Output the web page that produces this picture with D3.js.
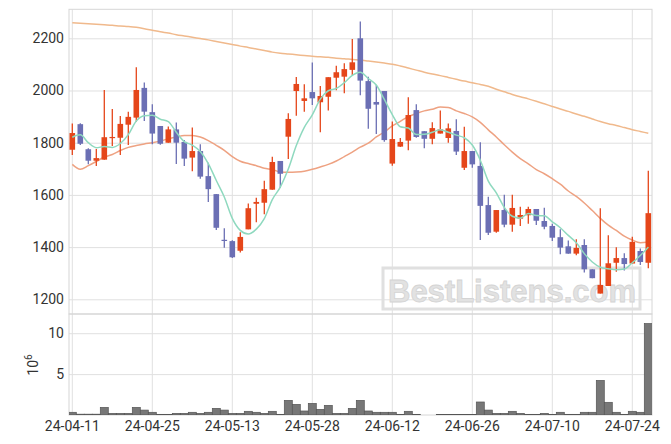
<!DOCTYPE html>
<html><head><meta charset="utf-8">
<script src="https://cdn.jsdelivr.net/npm/d3@7"></script>
<style>html,body{margin:0;padding:0;background:#fff;} svg{display:block;font-family:Roboto, sans-serif;}</style>
</head><body><svg id="c" width="671" height="444"></svg>
<script>
const dates = ["2024-04-11","2024-04-12","2024-04-15","2024-04-16","2024-04-17","2024-04-18","2024-04-19","2024-04-22","2024-04-23","2024-04-24",
"2024-04-25","2024-04-26","2024-04-29","2024-04-30","2024-05-02","2024-05-03","2024-05-07","2024-05-08","2024-05-09","2024-05-10",
"2024-05-13","2024-05-14","2024-05-16","2024-05-17","2024-05-20","2024-05-21","2024-05-22","2024-05-23","2024-05-24","2024-05-27",
"2024-05-28","2024-05-29","2024-05-30","2024-05-31","2024-06-03","2024-06-04","2024-06-05","2024-06-07","2024-06-10","2024-06-11",
"2024-06-12","2024-06-13","2024-06-14","2024-06-17","2024-06-18","2024-06-19","2024-06-20","2024-06-21","2024-06-24","2024-06-25",
"2024-06-26","2024-06-27","2024-06-28","2024-07-01","2024-07-02","2024-07-03","2024-07-04","2024-07-05","2024-07-08","2024-07-09",
"2024-07-10","2024-07-11","2024-07-12","2024-07-15","2024-07-16","2024-07-17","2024-07-18","2024-07-19","2024-07-22","2024-07-23",
"2024-07-24","2024-07-25","2024-07-26"];
const openP  = [1773,1871,1775,1731,1735,1819,1819,1869,1896,2010,1917,1864,1800,1851,1803,1743,1768,1672,1603,1428,
1423,1386,1468,1566,1570,1620,1730,1823,1998,1960,1994,1955,1976,2049,2053,2079,2200,2036,1956,1998,
1720,1785,1808,1925,1844,1815,1835,1818,1845,1704,1768,1711,1561,1459,1542,1486,1509,1522,1546,1500,
1481,1438,1403,1375,1408,1315,1222,1251,1340,1358,1337,1385,1340];
const highP  = [1874,1875,1779,1776,2002,1929,1902,1919,2089,2031,1947,1864,1862,1877,1810,1858,1794,1723,1603,1472,
1426,1457,1567,1589,1654,1746,1730,1913,2052,2024,2107,2017,2051,2095,2104,2197,2264,2053,2021,1998,
1881,1818,1974,1947,1844,1878,1923,1874,1890,1861,1768,1802,1593,1542,1601,1601,1555,1555,1546,1551,
1489,1468,1425,1430,1430,1315,1549,1445,1399,1376,1440,1395,1693];
const lowP   = [1753,1791,1717,1711,1735,1787,1753,1791,1880,1883,1794,1792,1800,1718,1711,1691,1662,1573,1466,1398,
1358,1379,1468,1495,1526,1620,1626,1738,1903,1919,1944,1840,1923,2001,1989,2059,1982,1853,1833,1804,
1712,1784,1771,1819,1779,1794,1835,1800,1753,1695,1704,1427,1446,1455,1476,1459,1481,1489,1485,1468,
1423,1373,1375,1369,1303,1281,1222,1251,1306,1310,1337,1331,1319];
const closeP = [1837,1796,1731,1741,1821,1822,1872,1899,2002,1919,1835,1796,1851,1800,1739,1768,1670,1622,1474,1425,
1361,1439,1549,1573,1622,1726,1681,1891,2025,1970,1970,1979,2051,2070,2082,2108,2038,1930,1946,1810,
1814,1803,1906,1822,1815,1856,1851,1855,1766,1768,1717,1558,1455,1542,1486,1550,1523,1546,1501,1478,
1436,1398,1375,1397,1315,1281,1255,1338,1358,1335,1420,1343,1530];
const ma5 = [1821,1830,1800,1781,1785,1782,1797,1831,1883,1903,1905,1890,1881,1840,1804,1791,1766,1720,1655,1592,
1510,1464,1450,1469,1509,1582,1630,1699,1789,1859,1907,1967,1999,2008,2030,2058,2070,2046,2021,1966,
1908,1861,1856,1831,1832,1840,1850,1840,1829,1819,1791,1733,1653,1608,1552,1518,1511,1529,1521,1520,
1497,1474,1445,1417,1375,1343,1323,1317,1313,1316,1340,1368,1400];
const ma20 = [1717,1698,1712,1728,1745,1755,1770,1782,1789,1795,1800,1806,1815,1822,1828,1828,1822,1808,1790,1771,
1747,1729,1720,1712,1702,1697,1688,1687,1688,1691,1698,1707,1717,1730,1747,1764,1783,1798,1822,1841,
1864,1882,1900,1912,1922,1928,1937,1935,1922,1912,1899,1878,1849,1822,1792,1764,1739,1719,1697,1681,
1662,1641,1615,1594,1569,1540,1510,1484,1464,1442,1427,1417,1420];
const ma120 = [2260,2258,2256,2254,2252,2250,2247,2245,2242,2237,2231,2225,2220,2214,2209,2204,2199,2194,2188,2182,
2176,2170,2165,2159,2153,2147,2143,2140,2137,2134,2131,2129,2127,2124,2122,2119,2117,2113,2109,2105,
2101,2094,2086,2078,2070,2063,2057,2050,2043,2036,2030,2023,2016,2005,1995,1985,1976,1968,1959,1949,
1939,1929,1920,1910,1901,1891,1881,1873,1866,1858,1850,1843,1836];
const volumeMillions = [0.33,0.1,0.1,0.1,0.93,0.2,0.2,0.2,0.93,0.6,0.33,0.08,0.08,0.2,0.2,0.33,0.2,0.33,0.81,0.6,
0.2,0.2,0.45,0.33,0.2,0.45,0.08,1.79,1.3,0.49,1.42,0.69,1.18,0.2,0.2,0.81,1.79,0.49,0.33,0.33,
0.33,0.08,0.45,0.08,0,0,0.06,0.06,0.06,0.06,0.06,1.59,0.6,0.2,0.2,0.45,0.2,0.08,0.08,0.2,
0.08,0.33,0.08,0.08,0.33,0.33,4.23,1.55,0.33,0.08,0.45,0.33,11.18];
const priceTicks = [1200,1400,1600,1800,2000,2200];
const volumeTicks = [5,10];
const tickDates = ["2024-04-11","2024-04-25","2024-05-13","2024-05-28","2024-06-12","2024-06-26","2024-07-10","2024-07-24"];
const tickLabels = ["24-04-11","24-04-25","24-05-13","24-05-28","24-06-12","24-06-26","24-07-10","24-07-24"];

const L = 69, R = 652, T = 9.3, MB = 314, VB = 415;
const svg = d3.select("#c");
const x = d3.scaleBand().domain(dates).range([68.3, 652.3]).padding(0);
const cx = d => x(d) + x.bandwidth()/2;
const y = d3.scaleLinear().domain([1143.7, 2311.1]).range([MB, T]);
const yv = d3.scaleLinear().domain([0, 12.35]).range([VB, MB]);

const defs = svg.append("defs");
defs.append("clipPath").attr("id","clipM").append("rect").attr("x",L).attr("y",T).attr("width",R-L).attr("height",MB-T);
defs.append("clipPath").attr("id","clipV").append("rect").attr("x",L).attr("y",MB).attr("width",R-L).attr("height",VB-MB);

const gridCol = "#e0e0e0", txtCol = "#333";
const xAx = svg.append("g").attr("transform",`translate(0,${VB})`)
  .call(d3.axisBottom(x).tickValues(tickDates).tickFormat((d,i)=>tickLabels[i]).tickSize(-(VB-T)).tickPadding(5.7));
xAx.select(".domain").remove();
xAx.selectAll("line").attr("stroke",gridCol);
xAx.selectAll("text").attr("fill",txtCol).style("font-size","14px").style("font-family","Roboto");
const yAx = svg.append("g").attr("transform",`translate(${L},0)`)
  .call(d3.axisLeft(y).tickValues(priceTicks).tickFormat(d3.format("d")).tickSize(-(R-L)).tickPadding(5));
yAx.select(".domain").remove();
yAx.selectAll("line").attr("stroke",gridCol);
yAx.selectAll("text").attr("fill",txtCol).style("font-size","14px").style("font-family","Roboto");
const vAx = svg.append("g").attr("transform",`translate(${L},0)`)
  .call(d3.axisLeft(yv).tickValues(volumeTicks).tickFormat(d3.format("d")).tickSize(-(R-L)).tickPadding(5));
vAx.select(".domain").remove();
vAx.selectAll("line").attr("stroke",gridCol);
vAx.selectAll("text").attr("fill",txtCol).style("font-size","14px").style("font-family","Roboto");

svg.append("rect").attr("x",L).attr("y",T).attr("width",R-L).attr("height",MB-T).attr("fill","none").attr("stroke","#d6d6d6");
svg.append("rect").attr("x",L).attr("y",MB).attr("width",R-L).attr("height",VB-MB).attr("fill","none").attr("stroke","#d6d6d6");

const vl = svg.append("text").attr("transform","translate(38,365) rotate(-90)").attr("text-anchor","middle")
  .attr("fill",txtCol).style("font-size","14px");
vl.append("tspan").text("10");
vl.append("tspan").attr("dy",-6).style("font-size","10px").text("6");

const wm = svg.append("g");
wm.append("rect").attr("x",383).attr("y",268).attr("width",257).attr("height",41).attr("fill","none").attr("stroke","#e0e0e0").attr("stroke-width",3);
wm.append("text").attr("x",388).attr("y",302).attr("textLength",248).attr("lengthAdjust","spacingAndGlyphs")
  .style("font-family","'Liberation Sans', Arial, sans-serif").style("font-weight","bold").style("font-size","31px")
  .attr("fill","#e2e2e2").attr("stroke","#d4d4d4").attr("stroke-width",0.8).text("BestListens.com");

svg.append("g").attr("clip-path","url(#clipV)").selectAll("rect").data(dates).join("rect")
  .attr("x",d=>x(d)).attr("width",x.bandwidth())
  .attr("y",(d,i)=>yv(volumeMillions[i])).attr("height",(d,i)=>VB-yv(volumeMillions[i]))
  .attr("fill","#777").attr("stroke","#555").attr("stroke-width",0.7);

const gM = svg.append("g").attr("clip-path","url(#clipM)");
function maLine(arr, col){
  const line = d3.line().x((d,i)=>cx(dates[i])).y(d=>y(d)).curve(d3.curveMonotoneX);
  gM.append("path").datum(arr).attr("d",line).attr("fill","none").attr("stroke",col).attr("stroke-width",1.5);
}
maLine(ma120, "#f0b98c");
maLine(ma20, "#eea282");

const up = "#e5461a", down = "#6b6fb4";
const gC = gM.append("g");
dates.forEach((d,i)=>{
  const col = closeP[i] >= openP[i] ? up : down;
  gC.append("line").attr("x1",cx(d)).attr("x2",cx(d)).attr("y1",y(highP[i])).attr("y2",y(lowP[i]))
    .attr("stroke",col).attr("stroke-width",1.3);
  const top = y(Math.max(openP[i],closeP[i])), bot = y(Math.min(openP[i],closeP[i]));
  gC.append("rect").attr("x",cx(d)-2.8).attr("width",5.6).attr("y",top).attr("height",Math.max(1.2,bot-top)).attr("fill",col);
});
maLine(ma5, "#8fd9bf");
</script></body></html>
